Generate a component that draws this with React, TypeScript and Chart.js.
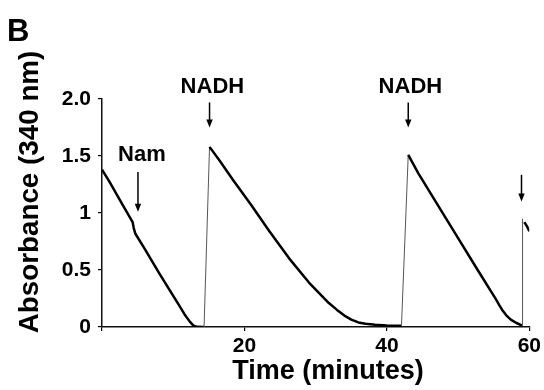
import React, { useEffect, useRef } from 'react';
import { Chart, registerables } from 'chart.js';

Chart.register(...registerables);

// ---- data ----
const timeMin: number[] = [
  // first decay, with the Nam addition step
  0, 1, 2, 3, 4.3, 4.45, 4.67, 6, 8.15, 10.94, 11.6, 12.33, 12.8, 13.27, 14.33,
  // first NADH addition and decay
  15.1, 16.5, 18.4, 21, 23.5, 26.3, 29.06, 31.85, 33, 34.17, 35, 36, 37, 38.35, 40, 42.05,
  // second NADH addition and decay
  43.0, 44.4, 47, 50, 52.75, 54.6, 55.3, 55.8, 56.3, 56.8, 57.4, 58.2, 59.0,
  // third addition
  59.05, 59.15, 59.3, 59.7, 60,
];
const absorbance: (number | null)[] = [
  1.38, 1.28, 1.17, 1.06, 0.92, 0.87, 0.82, 0.685, 0.46, 0.178, 0.11, 0.047, 0.015, 0.002, 0,
  1.58, 1.46, 1.29, 1.065, 0.84, 0.6, 0.39, 0.21, 0.15, 0.095, 0.065, 0.04, 0.028, 0.019, 0.014, 0.012,
  1.51, 1.35, 1.085, 0.78, 0.5, 0.315, 0.245, 0.19, 0.14, 0.1, 0.065, 0.035, 0.012,
  0.95, null, 0.92, 0.88, 0.84,
];

const xTickValues: number[] = [0, 20, 40, 60];
const xTickLabels: string[] = ['', '20', '40', '60'];
const yTickValues: number[] = [0, 0.5, 1, 1.5, 2];
const yTickLabels: string[] = ['0', '0.5', '1', '1.5', '2.0'];

const xTitle = 'Time (minutes)';
const yTitle = 'Absorbance (340 nm)';
const panelLetter = 'B';

// annotations: arrows (time, top absorbance, tip absorbance) and their labels
const annotationLabels: string[] = ['Nam', 'NADH', 'NADH', ''];
const arrowTimes: number[] = [5.05, 15.1, 43.0, 58.9];
const arrowTops: number[] = [1.36, 1.97, 1.97, 1.335];
const arrowTips: number[] = [1.01, 1.75, 1.75, 1.1];
const labelTimes: number[] = [5.6, 15.5, 43.3, 58.9];
const labelLevels: number[] = [1.51, 2.11, 2.11, 0];

const FONT = '"Liberation Sans", Arial, Helvetica, sans-serif';

const overlayPlugin = {
  id: 'overlay',
  afterDraw(chart: any) {
    const { ctx, scales } = chart;
    const x = scales.x;
    const y = scales.y;
    ctx.save();
    ctx.fillStyle = '#000';
    ctx.strokeStyle = '#000';
    // arrows
    for (let i = 0; i < arrowTimes.length; i++) {
      const px = x.getPixelForValue(arrowTimes[i]);
      const yt = y.getPixelForValue(arrowTops[i]);
      const yb = y.getPixelForValue(arrowTips[i]);
      ctx.lineWidth = 1.5;
      ctx.beginPath();
      ctx.moveTo(px, yt);
      ctx.lineTo(px, yb - 6);
      ctx.stroke();
      ctx.beginPath();
      ctx.moveTo(px - 3.2, yb - 8);
      ctx.lineTo(px + 3.2, yb - 8);
      ctx.lineTo(px, yb);
      ctx.closePath();
      ctx.fill();
    }
    // labels
    ctx.font = `bold 22px ${FONT}`;
    ctx.textAlign = 'center';
    ctx.textBaseline = 'middle';
    for (let i = 0; i < annotationLabels.length; i++) {
      if (!annotationLabels[i]) continue;
      ctx.fillText(
        annotationLabels[i],
        x.getPixelForValue(labelTimes[i]),
        y.getPixelForValue(labelLevels[i])
      );
    }
    // axis titles
    ctx.font = `bold 27px ${FONT}`;
    ctx.fillText(xTitle, 328, 372);
    ctx.save();
    ctx.font = `bold 27.8px ${FONT}`;
    ctx.translate(30, 192);
    ctx.rotate(-Math.PI / 2);
    ctx.fillText(yTitle, 0, 0);
    ctx.restore();
    // panel letter
    ctx.font = `bold 31px ${FONT}`;
    ctx.textAlign = 'left';
    ctx.textBaseline = 'alphabetic';
    ctx.fillText(panelLetter, 7, 41);
    ctx.restore();
  },
};

export default function App() {
  const ref = useRef<HTMLCanvasElement | null>(null);

  useEffect(() => {
    if (!ref.current) return;
    const points = timeMin.map((t, i) => ({ x: t, y: absorbance[i] }));
    const tickFont = { family: FONT, size: 21, weight: 'bold' as const };
    const chart = new Chart(ref.current, {
      type: 'line',
      data: {
        datasets: [
          {
            data: points as any,
            borderColor: '#000',
            borderWidth: 2.5,
            pointRadius: 0,
            tension: 0,
            borderJoinStyle: 'round',
            spanGaps: false,
            segment: {
              borderWidth: (c: any) => (c.p1.parsed.y - c.p0.parsed.y > 0.3 ? 1 : 2.5),
              borderColor: (c: any) => (c.p1.parsed.y - c.p0.parsed.y > 0.3 ? '#555' : '#000'),
            },
          },
        ],
      },
      plugins: [overlayPlugin],
      options: {
        animation: false,
        responsive: false,
        layout: { padding: { top: 99, right: 12, left: 0, bottom: 0 } },
        plugins: { legend: { display: false }, tooltip: { enabled: false } },
        scales: {
          x: {
            type: 'linear',
            min: 0,
            max: 60,
            afterFit: (s: any) => {
              s.height = 63;
            },
            afterBuildTicks: (s: any) => {
              s.ticks = xTickValues.map((v) => ({ value: v }));
            },
            ticks: {
              color: '#000',
              font: tickFont,
              padding: 3,
              maxRotation: 0,
              autoSkip: false,
              callback: (v: any) => {
                const i = xTickValues.indexOf(Number(v));
                return i >= 0 ? xTickLabels[i] : '';
              },
            },
            grid: { display: true, drawOnChartArea: false, drawTicks: true, tickLength: 4, color: '#000', lineWidth: 1.2 },
            border: { display: true, color: '#111', width: 1.5 },
          },
          y: {
            type: 'linear',
            min: 0,
            max: 2,
            afterFit: (s: any) => {
              s.width = 102;
            },
            afterBuildTicks: (s: any) => {
              s.ticks = yTickValues.map((v) => ({ value: v }));
            },
            ticks: {
              color: '#000',
              font: tickFont,
              padding: 7,
              autoSkip: false,
              callback: (v: any) => {
                const i = yTickValues.indexOf(Number(v));
                return i >= 0 ? yTickLabels[i] : '';
              },
            },
            grid: { display: true, drawOnChartArea: false, drawTicks: true, tickLength: 4, color: '#000', lineWidth: 1.2 },
            border: { display: true, color: '#111', width: 1.5 },
          },
        },
      },
    });
    return () => chart.destroy();
  }, []);

  return (
    <div style={{ position: 'absolute', left: 0, top: 0, width: 544, height: 390, background: '#fff' }}>
      <canvas ref={ref} width={544} height={390} style={{ display: 'block' }} />
    </div>
  );
}
